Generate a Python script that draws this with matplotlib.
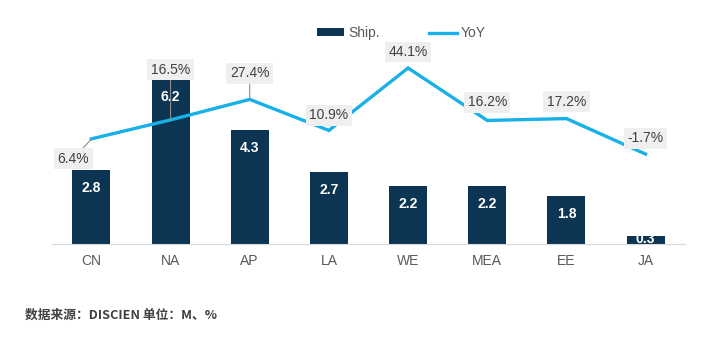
import matplotlib
matplotlib.use("Agg")
import matplotlib.pyplot as plt
import numpy as np

plt.rcParams['font.family'] = ['Liberation Sans', 'Noto Sans CJK SC', 'DejaVu Sans']

regions = ["CN", "NA", "AP", "LA", "WE", "MEA", "EE", "JA"]
ship = [2.8, 6.2, 4.3, 2.7, 2.2, 2.2, 1.8, 0.3]
yoy = [6.4, 16.5, 27.4, 10.9, 44.1, 16.2, 17.2, -1.7]
# label offsets (in px) relative to the line point, and whether a leader line is drawn
lab_dx = [-18, 0, 0, 0, 0, 0, 0, 0]
lab_dy = [-20, 50, 26, 15, 16, 18, 17, 16]
leader = [True, True, True, False, False, False, False, False]

BAR = "#0b3552"
LINE = "#17b0e9"

fig = plt.figure(figsize=(7.19, 3.48), dpi=100)
ax = fig.add_axes([0.072, 0.299, 0.881, 0.572])
x = np.arange(len(regions))
bars = ax.bar(x, ship, width=0.48, color=BAR, label="Ship.", zorder=2)
ax.set_ylim(0, 7.5)
ax.set_xlim(-0.5, len(regions) - 0.5)
ax.set_yticks([])
for s in ["top", "right", "left"]:
    ax.spines[s].set_visible(False)
ax.spines["bottom"].set_color("#d9d9d9")
ax.set_xticks(x)
ax.set_xticklabels(regions, fontsize=10, color="#595959")
ax.tick_params(axis="x", length=0, pad=7)

for xi, v in zip(x, ship):
    off = -13 if v > 1 else -2
    ax.annotate(f"{v:.1f}", (xi, v), xytext=(0, off), textcoords="offset points",
                ha="center", va="center", color="white", fontsize=10, fontweight="bold", zorder=3)

ax2 = ax.twinx()
ax2.set_ylim(-49.5, 56.4)
ax2.axis("off")
ax2.plot(x, yoy, color=LINE, lw=2.4, label="YoY", zorder=3, solid_joinstyle="miter")

for xi, v, dx, dy, ld in zip(x, yoy, lab_dx, lab_dy, leader):
    ax2.annotate(f"{v:.1f}%", (xi, v), xytext=(dx * 0.72, dy * 0.72), textcoords="offset points",
                 ha="center", va="center", fontsize=10, color="#404040",
                 bbox=dict(boxstyle="square,pad=0.25", fc="#efefef", ec="none"),
                 arrowprops=dict(arrowstyle="-", color="#8c8c8c", lw=0.8, shrinkA=0, shrinkB=0) if ld else None,
                 zorder=4)

h1, l1 = ax.get_legend_handles_labels()
h2, l2 = ax2.get_legend_handles_labels()
fig.legend(h1 + h2, l1 + l2, loc="center", bbox_to_anchor=(0.558, 0.905), ncol=2, frameon=False,
           fontsize=10, labelcolor="#595959", handlelength=2.0, handleheight=0.5,
           handletextpad=0.25, columnspacing=3.6)

fig.text(0.035, 0.085, "数据来源：DISCIEN 单位：M、%", fontsize=9.2, fontweight="bold", color="#404040",
         family=["Noto Sans CJK SC", "DejaVu Sans"])

fig.savefig("out.png", dpi=100)
